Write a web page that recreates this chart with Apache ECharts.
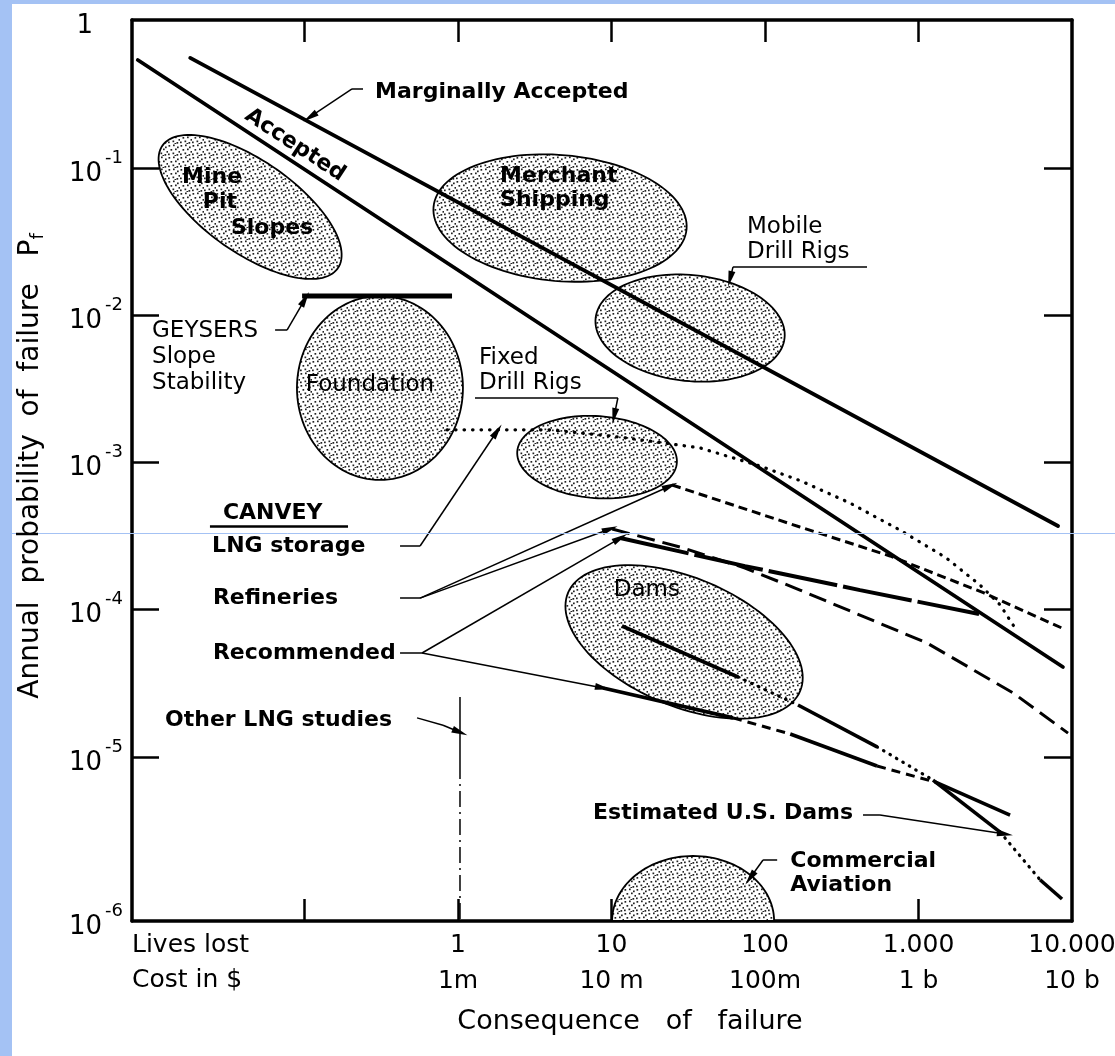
<!DOCTYPE html>
<html>
<head>
<meta charset="utf-8">
<script src="https://cdn.jsdelivr.net/npm/echarts@6/dist/echarts.min.js"></script>
<style>
 html,body{margin:0;padding:0;background:#fff;}
 #chart{width:1115px;height:1056px;}
</style>
</head>
<body>
<div id="chart"></div>
<script>
// values, every point is [lives lost, annual probability of failure]
var livesTicks = ['1', '10', '100', '1.000', '10.000'];
var costTicks = ['1m', '10 m', '100m', '1 b', '10 b'];
var xRange = [-2.124, 4];        // log10 of lives lost at the frame edges
var yRange = [-6.116, 0.009];    // log10 of probability at the frame edges

var acceptedLine = [[0.0082, 0.546], [8730, 4.08e-5]];
var marginalLine = [[0.018, 0.564], [8110, 3.71e-4]];
var geysersBar = [[0.0964, 0.0136], [0.914, 0.0136]];
var lngStorage = [[0.848, 1.67e-3], [3.97, 1.67e-3], [11.4, 1.49e-3], [37.7, 1.26e-3], [92.8, 9.48e-4], [172, 7.5e-4],
                  [358, 5.31e-4], [757, 3.48e-4], [1490, 2.28e-4], [2520, 1.47e-4], [3400, 1.08e-4], [4380, 7.16e-5]];
var refineriesA = [[24.8, 7.05e-4], [169, 3.65e-4], [652, 2.32e-4], [2670, 1.3e-4], [8870, 7.4e-5]];
var refineriesB = [[10.1, 3.54e-4], [27.9, 2.67e-4], [74.1, 1.92e-4], [169, 1.36e-4], [1136, 5.94e-5], [4130, 2.72e-5], [9420, 1.45e-5]];
var recommendedA = [[11.4, 3.07e-4], [74.1, 1.98e-4], [416, 1.36e-4], [2480, 9.35e-5]];
var recommendedB = [[8.8, 2.94e-5], [61.9, 1.84e-5], [146, 1.43e-5], [537, 8.67e-6], [1280, 6.75e-6], [3950, 4.02e-6]];
var recommendedBKind = ['solid', 'dash', 'solid', 'dash', 'solid'];
var damsLine = [[11.7, 7.75e-5], [66.7, 3.49e-5], [164, 2.25e-5], [537, 1.17e-5], [1243, 6.95e-6], [3400, 3.08e-6], [6190, 1.46e-6], [8610, 1.08e-6]];
var damsLineKind = ['solid', 'dot', 'solid', 'dot', 'solid', 'dot', 'solid'];
var otherLng = [[1.03, 2.55e-5], [1.03, 9.08e-6], [1.03, 7.66e-7]];
var otherLngKind = ['thin', 'dashdot'];

var regionCentres = [[0.0442, 0.0547], [4.62, 0.046], [32.5, 8.22e-3], [0.31, 3.22e-3], [8.05, 1.09e-3], [29.7, 6.04e-5], [34, 7.66e-7]];
// half axes (px) and tilt (deg) of the stippled blobs
var regionShape = [[107, 46, 35], [127, 63, 5], [95, 53, 6], [83, 92, 0], [80, 41, 4], [126, 64, 23], [81, 65, 0]];

var noteTexts = ['Marginally Accepted', 'Accepted', 'Mine', 'Pit', 'Slopes', 'Merchant\nShipping', 'Mobile\nDrill Rigs',
  'GEYSERS\nSlope\nStability', 'Foundation', 'Fixed\nDrill Rigs', 'CANVEY', 'LNG storage', 'Refineries', 'Recommended',
  'Other LNG studies', 'Dams', 'Estimated U.S. Dams', 'Commercial\nAviation'];
var noteAt = [[0.288, 0.331], [0.0867, 0.144], [0.025, 0.0874], [0.0281, 0.0591], [0.0614, 0.0394], [1.88, 0.0736], [76.3, 0.0329],
  [0.01015, 5.22e-3], [0.267, 3.37e-3], [1.37, 4.23e-3], [0.0294, 4.54e-4], [0.025, 2.71e-4], [0.0253, 1.2e-4], [0.0253, 5.08e-5],
  [0.01234, 1.78e-5], [17, 1.36e-4], [7.58, 4.15e-6], [146, 1.62e-6]];

// pointer lines, the last leg of each one ends in an arrow head
var arrowPaths = [
  [[0.2405, 0.3467], [0.2039, 0.3467], [0.1086, 0.2237]],
  [[0.0643, 7.97e-3], [0.0769, 7.97e-3], [0.1008, 1.295e-2]],
  [[61.9, 2.14e-2], [59.2, 1.77e-2]],
  [[11.0, 2.75e-3], [10.4, 2.07e-3]],
  [[0.419, 2.71e-4], [0.566, 2.71e-4], [1.80, 1.64e-3]],
  [[0.419, 1.2e-4], [0.566, 1.2e-4], [24.1, 6.94e-4]],
  [[0.566, 1.2e-4], [9.78, 3.54e-4]],
  [[0.419, 5.08e-5], [0.583, 5.08e-5], [11.4, 3.07e-4]],
  [[0.583, 5.08e-5], [8.8, 2.94e-5]],
  [[0.541, 1.84e-5], [0.799, 1.64e-5], [1.03, 1.47e-5]],
  [[435, 4.02e-6], [561, 4.02e-6], [3660, 2.99e-6]],
  [[120, 1.99e-6], [97.1, 1.99e-6], [79.9, 1.5e-6]]
];
var underlines = [[[61.9, 2.14e-2], [462, 2.14e-2]], [[1.29, 2.75e-3], [11.0, 2.75e-3]], [[0.0242, 3.71e-4], [0.192, 3.71e-4]]];

function lg(p) { return [Math.log10(p[0]), Math.log10(p[1])]; }

var FONT = '"DejaVu Sans", sans-serif';
var BOLD = 'bold 22px ' + FONT;
var REG = '23px ' + FONT;
var noteLook = [
  {f: BOLD, a: 'left'}, {f: BOLD, a: 'center', r: -33.3}, {f: BOLD, a: 'center'}, {f: BOLD, a: 'center'}, {f: BOLD, a: 'center'},
  {f: BOLD, a: 'left', lh: 24}, {f: REG, a: 'left', lh: 25}, {f: REG, a: 'left', lh: 26}, {f: REG, a: 'center'},
  {f: REG, a: 'left', lh: 25}, {f: BOLD, a: 'left'}, {f: BOLD, a: 'left'}, {f: BOLD, a: 'left'}, {f: BOLD, a: 'left'},
  {f: BOLD, a: 'left'}, {f: REG, a: 'center'}, {f: BOLD, a: 'left'}, {f: BOLD, a: 'left', lh: 24}
];

var kinds = {
  solid: {width: 3.6},
  dash: {width: 3, type: [9, 6]},
  dot: {width: 3.2, type: [0.5, 7], cap: 'round'},
  thin: {width: 1.5},
  dashdot: {width: 1.5, type: [16, 5, 2, 5]}
};

// stipple texture for the regions
var tile = document.createElement('canvas');
tile.width = 12; tile.height = 12;
var tc = tile.getContext('2d');
tc.fillStyle = '#fff'; tc.fillRect(0, 0, 12, 12);
tc.fillStyle = '#222';
[[0.5, 1], [5, 0.5], [9, 2.5], [2.5, 5], [7, 4.5], [10.5, 7], [4.5, 8.5], [0, 9.5], [8.5, 10], [6.5, 11]].forEach(function (d) {
  tc.fillRect(d[0], d[1], 1.7, 1.7);
});
var stipple = {image: tile, repeat: 'repeat'};

function lineSeries(pts, style) {
  return {
    type: 'line', data: pts.map(lg), showSymbol: false, symbol: 'none', silent: true, z: 3,
    lineStyle: Object.assign({color: '#000'}, style)
  };
}

var series = [];
series.push({
  type: 'custom', silent: true, z: 1,
  data: regionCentres.map(function (p, i) { var q = lg(p); return [q[0], q[1], i]; }),
  renderItem: function (params, api) {
    var i = api.value(2);
    var c = api.coord([api.value(0), api.value(1)]);
    var bottom = api.coord([0, yRange[0]])[1];
    var a = regionShape[i][0], b = regionShape[i][1], t = regionShape[i][2] * Math.PI / 180;
    var pts = [];
    for (var k = 0; k < 120; k++) {
      var u = k / 120 * 2 * Math.PI;
      var x = c[0] + a * Math.cos(u) * Math.cos(t) - b * Math.sin(u) * Math.sin(t);
      var y = c[1] + a * Math.cos(u) * Math.sin(t) + b * Math.sin(u) * Math.cos(t);
      pts.push([x, Math.min(y, bottom)]);
    }
    return {type: 'polygon', shape: {points: pts}, style: {fill: stipple, stroke: '#000', lineWidth: 1.8}};
  }
});

var markData = [];
arrowPaths.forEach(function (path) {
  for (var i = 0; i < path.length - 1; i++) {
    var last = i === path.length - 2;
    markData.push([
      {coord: lg(path[i]), symbol: 'none'},
      {coord: lg(path[i + 1]), symbol: last ? 'triangle' : 'none', symbolSize: [7, 16]}
    ]);
  }
});
underlines.forEach(function (u, i) {
  markData.push([{coord: lg(u[0]), symbol: 'none', lineStyle: {width: i === 2 ? 2.5 : 1.5}}, {coord: lg(u[1]), symbol: 'none'}]);
});

var acc = lineSeries(acceptedLine, {width: 3.8, cap: 'round'});
acc.markLine = {
  silent: true, animation: false, symbol: ['none', 'none'], label: {show: false},
  lineStyle: {type: 'solid', color: '#000', width: 1.5}, emphasis: {disabled: true},
  data: markData
};
series.push(acc);
series.push(lineSeries(marginalLine, {width: 3.8, cap: 'round'}));
series.push(lineSeries(geysersBar, {width: 5}));
series.push(lineSeries(lngStorage, {width: 3.2, type: [0.5, 8], cap: 'round'}));
series.push(lineSeries(refineriesA, {width: 3, type: [9, 5]}));
series.push(lineSeries(refineriesB, {width: 3, type: [18, 8]}));
series.push(lineSeries(recommendedA, {width: 4, type: [70, 6]}));
function pieces(pts, kind) {
  for (var i = 0; i < pts.length - 1; i++) series.push(lineSeries([pts[i], pts[i + 1]], kinds[kind[i]]));
}
pieces(recommendedB, recommendedBKind);
pieces(damsLine, damsLineKind);
pieces(otherLng, otherLngKind);

series.push({
  type: 'custom', silent: true, z: 6,
  data: noteAt.map(function (p, i) { var q = lg(p); return [q[0], q[1], i]; }),
  renderItem: function (params, api) {
    var i = api.value(2);
    var c = api.coord([api.value(0), api.value(1)]);
    var s = noteLook[i];
    return {
      type: 'text', x: c[0], y: c[1], rotation: (s.r || 0) * Math.PI / 180,
      style: {text: noteTexts[i], fill: '#000', font: s.f, align: s.a, verticalAlign: 'middle', lineHeight: s.lh || 24}
    };
  }
});

var axisBase = {
  type: 'value', splitLine: {show: false},
  axisLine: {show: true, onZero: false, lineStyle: {color: '#000', width: 3.5}},
  axisTick: {show: true, inside: true, length: 25, lineStyle: {color: '#000', width: 2.5}}
};
function axis(extra) { return echarts.util.merge(echarts.util.clone(axisBase), extra, true); }

var option = {
  animation: false,
  backgroundColor: '#fff',
  grid: {left: 132, right: 43, top: 20, bottom: 135, containLabel: false, outerBoundsMode: 'none'},
  xAxis: [
    axis({min: xRange[0], max: xRange[1], position: 'bottom',
      axisTick: {customValues: [-1, 0, 1, 2, 3], length: 22},
      axisLabel: {
        customValues: [0, 1, 2, 3, 4], margin: 6, color: '#000',
        formatter: function (v) { var i = Math.round(v); return '{a|' + livesTicks[i] + '}\n{a|' + costTicks[i] + '}'; },
        rich: {a: {fontFamily: FONT, fontSize: 25, lineHeight: 36, color: '#000'}}
      }}),
    axis({min: xRange[0], max: xRange[1], position: 'top',
      axisTick: {customValues: [-1, 0, 1, 2, 3], length: 22}, axisLabel: {show: false}})
  ],
  yAxis: [
    axis({min: yRange[0], max: yRange[1], position: 'left',
      axisTick: {customValues: [-5, -4, -3, -2, -1], length: 27},
      axisLabel: {
        customValues: [yRange[0], -5, -4, -3, -2, -1, yRange[1]], margin: 9, color: '#000',
        formatter: function (v) {
          var e = Math.round(v);
          return e === 0 ? '{b|1}{sp| }' : '{b|10}{e|-' + (-e) + '}';
        },
        rich: {
          b: {fontFamily: FONT, fontSize: 26, lineHeight: 38, verticalAlign: 'bottom', color: '#000'},
          e: {fontFamily: FONT, fontSize: 18, lineHeight: 18, verticalAlign: 'top', color: '#000', padding: [0, 0, 0, 3]},
          sp: {width: 30}
        }
      }}),
    axis({min: yRange[0], max: yRange[1], position: 'right',
      axisTick: {customValues: [-5, -4, -3, -2, -1], length: 28}, axisLabel: {show: false}})
  ],
  graphic: [
    {type: 'rect', x: 0, y: 0, shape: {width: 12, height: 1056}, style: {fill: '#a4c2f4'}, z: 50},
    {type: 'rect', x: 0, y: 0, shape: {width: 1115, height: 4}, style: {fill: '#a4c2f4'}, z: 50},
    {type: 'line', shape: {x1: 12, y1: 533.5, x2: 1115, y2: 533.5}, style: {stroke: '#a4c2f4', lineWidth: 1}, z: 50},
    {type: 'text', x: 31, y: 466, rotation: Math.PI / 2, z: 50,
      style: {text: 'Annual  probability  of  failure   {p|P}{f|f}', font: '28px ' + FONT, fill: '#000',
        align: 'center', verticalAlign: 'middle', lineHeight: 32,
        rich: {p: {font: '28px ' + FONT, lineHeight: 32}, f: {font: '18px ' + FONT, lineHeight: 16, verticalAlign: 'bottom'}}}},
    {type: 'text', x: 630, y: 1022, z: 50,
      style: {text: 'Consequence   of   failure', font: '27px ' + FONT, fill: '#000', align: 'center', verticalAlign: 'middle'}},
    {type: 'text', x: 132, y: 962.5, z: 50,
      style: {text: 'Lives lost\nCost in $', font: '25px ' + FONT, fill: '#000', align: 'left', verticalAlign: 'middle', lineHeight: 35}}
  ],
  series: series
};

var chart = echarts.init(document.getElementById('chart'));
chart.setOption(option);
</script>
</body>
</html>
